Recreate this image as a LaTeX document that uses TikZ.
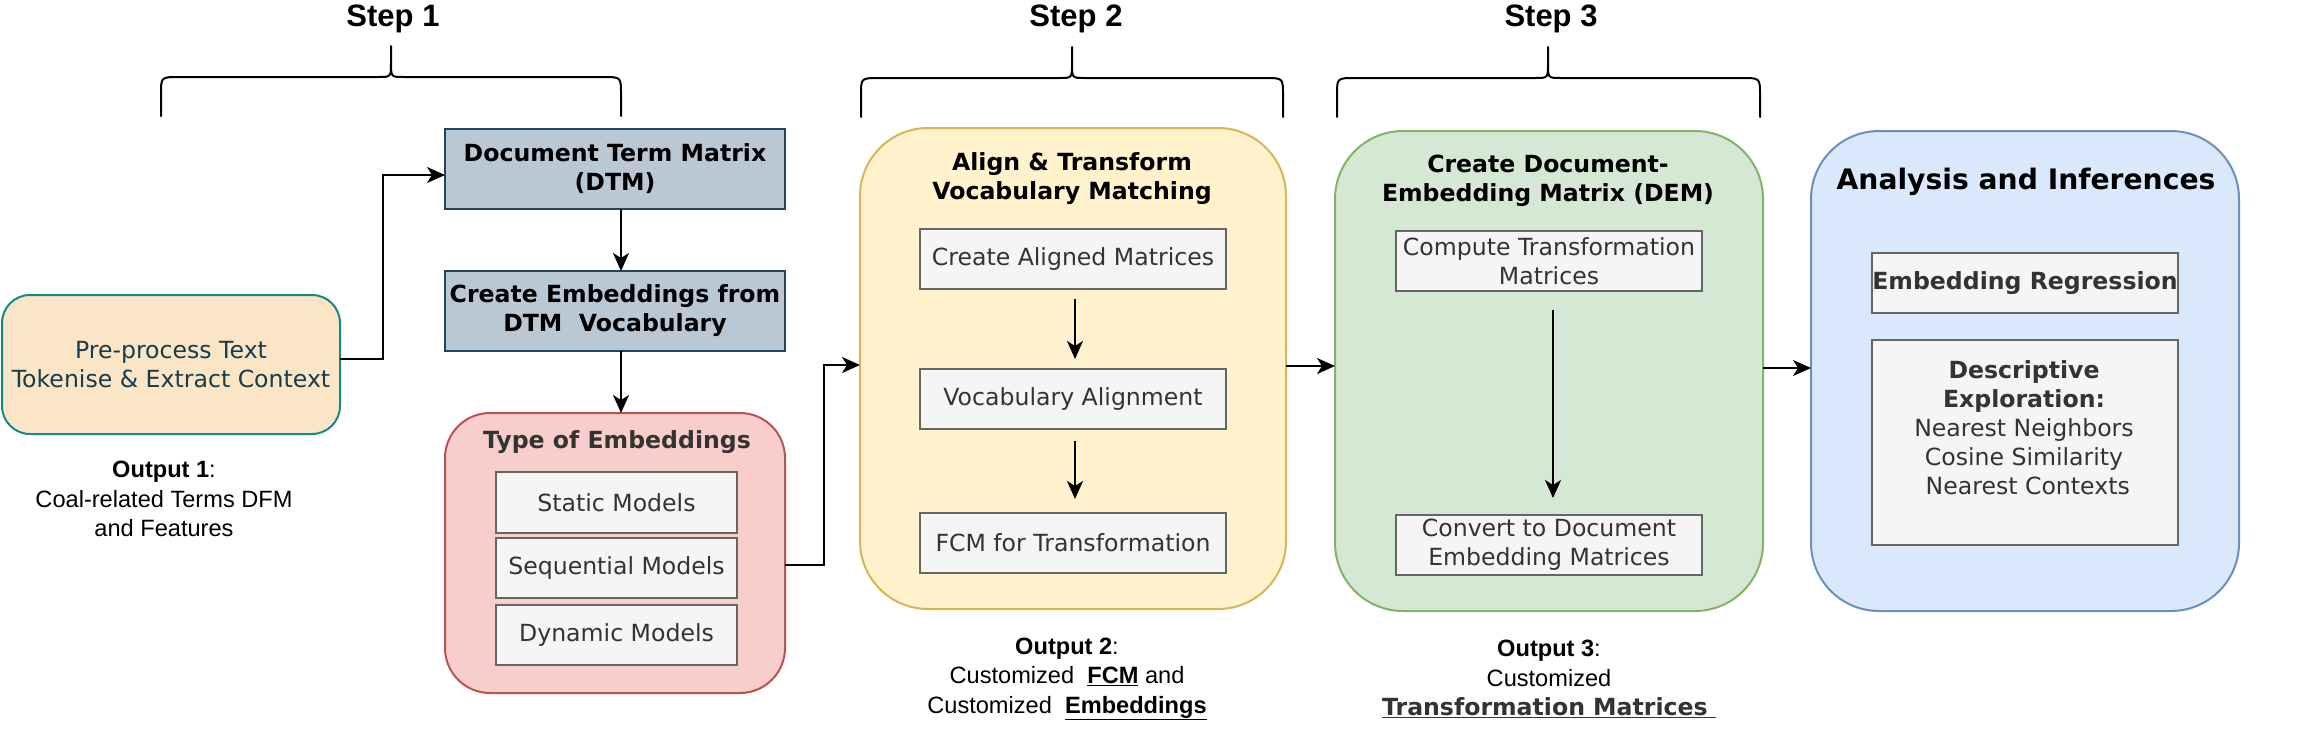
\documentclass[tikz,border=0pt]{standalone}
\usepackage{fontspec}
\setmainfont{Liberation Sans}
\newfontfamily\vf{DejaVu Sans}
\usetikzlibrary{arrows.meta}
\definecolor{prefill}{HTML}{FAE5C7}
\definecolor{predraw}{HTML}{138A8A}
\definecolor{pretext}{HTML}{173C4A}
\definecolor{dtmfill}{HTML}{BAC8D3}
\definecolor{dtmdraw}{HTML}{23445D}
\definecolor{redfill}{HTML}{F8CECC}
\definecolor{reddraw}{HTML}{B85450}
\definecolor{grayfill}{HTML}{F5F5F5}
\definecolor{graydraw}{HTML}{666666}
\definecolor{graytext}{HTML}{333333}
\definecolor{yelfill}{HTML}{FFF2CC}
\definecolor{yeldraw}{HTML}{D6B656}
\definecolor{grnfill}{HTML}{D5E8D4}
\definecolor{grndraw}{HTML}{82B366}
\definecolor{blufill}{HTML}{DAE8FC}
\definecolor{bludraw}{HTML}{6C8EBF}
\begin{document}
\begin{tikzpicture}[x=1pt,y=-1pt,
  every node/.style={inner sep=0pt, outer sep=0pt},
  vtext/.style={font=\vf\fontsize{23.6}{29}\selectfont, align=center},
  vbold/.style={font=\vf\bfseries\fontsize{23.6}{29}\selectfont, align=center},
  atext/.style={font=\fontsize{23.6}{29.5}\selectfont, align=center},
  steplabel/.style={font=\bfseries\fontsize{31}{37}\selectfont},
  innerbox/.style={draw=graydraw, fill=grayfill, line width=2pt, text=graytext, vtext, minimum width=306pt, minimum height=60pt},
  bluebox/.style={draw=dtmdraw, fill=dtmfill, line width=2pt, vbold, minimum width=340pt, minimum height=80pt},
  container/.style={line width=2pt, rounded corners=68pt, minimum width=428pt, minimum height=480pt},
  arr/.style={line width=2pt, -{Stealth[length=18pt,width=16pt,inset=5pt]}},
  bracepath/.style={line width=2pt, line join=round, line cap=round},
]
\useasboundingbox (0,0) rectangle (2316,740);

% Step labels and braces
\node[steplabel] (s1) at (393,19) {Step 1};
\node[steplabel] (s2) at (1076,19) {Step 2};
\node[steplabel] (s3) at (1551,19) {Step 3};
\draw[bracepath] (161,116) -- (161,94) .. controls (161,77) .. (179,77) -- (378,77)
  .. controls (391,77) .. (391,63) -- (391,46) -- (391,63)
  .. controls (391,77) .. (404,77) -- (603,77) .. controls (621,77) .. (621,94) -- (621,116);
\draw[bracepath] (861,117) -- (861,95) .. controls (861,78) .. (879,78) -- (1059,78)
  .. controls (1072,78) .. (1072,64) -- (1072,47) -- (1072,64)
  .. controls (1072,78) .. (1085,78) -- (1265,78) .. controls (1283,78) .. (1283,95) -- (1283,117);
\draw[bracepath] (1337,117) -- (1337,95) .. controls (1337,78) .. (1355,78) -- (1535,78)
  .. controls (1548,78) .. (1548,64) -- (1548,47) -- (1548,64)
  .. controls (1548,78) .. (1561,78) -- (1742,78) .. controls (1760,78) .. (1760,95) -- (1760,117);

% Step 1
\node[draw=predraw, fill=prefill, line width=2pt, rounded corners=28pt,
      minimum width=338pt, minimum height=139pt, vtext, text=pretext] (pre) at (171,364.5)
      {Pre-process Text\\Tokenise \& Extract Context};
\node[bluebox] (dtm) at (615,169) {Document Term Matrix\\(DTM)};
\node[bluebox] (cemb) at (615,311) {Create Embeddings from\\DTM\ \ Vocabulary};
\node[draw=reddraw, fill=redfill, line width=2pt, rounded corners=45pt,
      minimum width=340pt, minimum height=280pt] (type) at (615,553) {};
\node[vbold, text=graytext] (typet) at (617,442) {Type of Embeddings};
\node[innerbox, minimum width=241pt, minimum height=61pt] (static) at (616.5,502.5) {Static Models};
\node[innerbox, minimum width=241pt] (seq) at (616.5,568) {Sequential Models};
\node[innerbox, minimum width=241pt] (dyn) at (616.5,635) {Dynamic Models};
\node[atext] (out1) at (164,499) {\textbf{Output 1}:\\Coal-related Terms DFM\\and Features};

% Step 2
\node[container, draw=yeldraw, fill=yelfill, minimum width=426pt, minimum height=481pt] (yellow) at (1073,368.5) {};
\node[vbold] (yelt) at (1072,179) {Align \& Transform\\Vocabulary Matching};
\node[innerbox] (cam) at (1073,259) {Create Aligned Matrices};
\node[innerbox] (va) at (1073,399) {Vocabulary Alignment};
\node[innerbox] (fcm) at (1073,543) {FCM for Transformation};
\node[atext] (out2) at (1067,679) {\textbf{Output 2}:\\Customized\ \ \underline{\textbf{FCM}} and\\Customized\ \ \underline{\textbf{Embeddings}}};

% Step 3
\node[container, draw=grndraw, fill=grnfill] (green) at (1549,371) {};
\node[vbold] (grnt) at (1548,181) {Create Document-\\Embedding Matrix (DEM)};
\node[innerbox] (ctm) at (1549,261) {Compute Transformation\\Matrices};
\node[innerbox] (conv) at (1549,545) {Convert to Document\\Embedding Matrices};
\node[atext] (out3) at (1549,679) {\textbf{Output 3}:\\Customized\\{\vf\bfseries\color{graytext}\underline{Transformation Matrices\ }}};

% Analysis
\node[container, draw=bludraw, fill=blufill] (blue) at (2025,371) {};
\node[font=\vf\bfseries\fontsize{28.2}{34}\selectfont] (blut) at (2026,182) {Analysis and Inferences};
\node[innerbox, vbold] (er) at (2025,283) {Embedding Regression};
\node[innerbox, minimum height=205pt] (de) at (2025,442.5) {};
\node[vtext, text=graytext] (det) at (2024,428) {\textbf{Descriptive}\\\textbf{Exploration:}\\Nearest Neighbors\\Cosine Similarity\\\ Nearest Contexts};

% Connectors
\draw[arr] ([yshift=5.5pt]pre.east) -- ++(43,0) |- ([yshift=-6pt]dtm.west);
\draw[arr] ([xshift=6pt]dtm.south) -- ([xshift=6pt]cemb.north);
\draw[arr] ([xshift=6pt]cemb.south) -- ([xshift=6pt]type.north);
\draw[arr] ([yshift=-12pt]type.east) -- ++(39,0) |- ([yshift=3.5pt]yellow.west);
\draw[arr, shorten <=10pt, shorten >=10pt] ([xshift=2pt]cam.south) -- ([xshift=2pt]va.north);
\draw[arr, shorten <=12pt, shorten >=14pt] ([xshift=2pt]va.south) -- ([xshift=2pt]fcm.north);
\draw[arr] ([yshift=2.5pt]yellow.east) -- ([yshift=2.5pt]yellow.east -| green.west);
\draw[arr, shorten <=19pt, shorten >=17pt] ([xshift=4pt]ctm.south) -- ([xshift=4pt]conv.north);
\draw[arr] ([yshift=3pt]green.east) -- ([yshift=3pt]green.east -| blue.west);
\end{tikzpicture}
\end{document}
